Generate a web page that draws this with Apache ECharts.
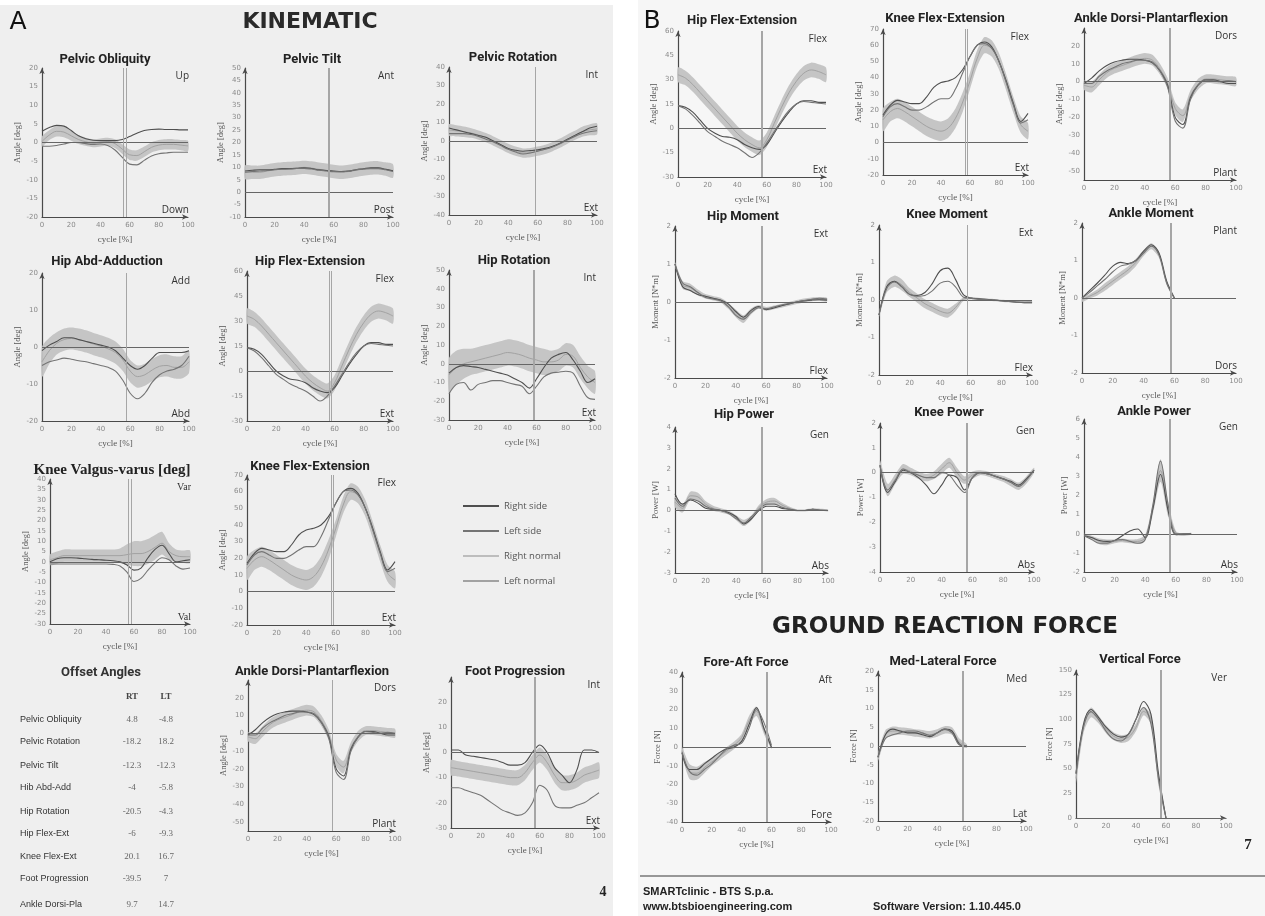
<!DOCTYPE html>
<html>
<head>
<meta charset="utf-8">
<script src="https://cdn.jsdelivr.net/npm/echarts@6/dist/echarts.min.js"></script>
<style>
html, body { margin: 0; padding: 0; background: #fff; }
#main { width: 1265px; height: 916px; }
</style>
</head>
<body>
<div id="main"></div>
<script>
// gait cycle, percent
var cycle = [0, 5, 10, 15, 20, 25, 30, 35, 40, 45, 50, 55, 60, 65, 70, 75, 80, 85, 90, 95, 100];

// ---- kinematics (deg) : normal band mean / sd, right side, left side
var poMean = [0.3, 2.0, 3.0, 2.8, 1.8, 0.8, 0.2, -0.2, 0, 0.2, -0.3, -1.8, -3.3, -3.5, -2.5, -1.3, -0.7, -0.5, -0.5, -0.7, -0.9];
var poSd = [1.3, 1.3, 1.4, 1.4, 1.3, 1.2, 1.1, 1.1, 1.1, 1.1, 1.2, 1.3, 1.4, 1.4, 1.4, 1.4, 1.4, 1.4, 1.4, 1.4, 1.4];
var poRight = [3.0, 4.0, 4.6, 4.4, 3.2, 1.8, 1.0, 0.6, 0.5, 0.5, 0.5, 0.8, 1.6, 2.5, 3.2, 3.5, 3.6, 3.5, 3.5, 3.4, 3.4];
var poLeft = [-1.0, -1.0, -0.8, -0.4, 0, 0, -0.3, -0.5, -0.4, -0.8, -2.0, -4.0, -5.8, -6.0, -4.8, -3.6, -3.0, -2.8, -2.6, -2.6, -2.6];

var ptMean = [8, 8, 8, 8.5, 9, 9.3, 9.5, 9.7, 10, 9.7, 9.2, 8.8, 8.3, 8, 8.3, 8.8, 9.3, 9.7, 9.8, 9.3, 8.5];
var ptSd = [2.7, 2.7, 2.7, 2.7, 2.7, 2.7, 2.7, 2.7, 2.7, 2.7, 2.7, 2.7, 2.7, 2.7, 2.7, 2.7, 2.7, 2.7, 2.7, 2.7, 2.7];
var ptRight = [8.5, 8.8, 9, 9, 9.2, 9.5, 9.5, 9.6, 9.8, 9.5, 9, 8.7, 8.5, 8.3, 8.5, 9, 9.4, 9.8, 9.8, 9.2, 8.6];
var ptLeft = [8, 8.3, 8.5, 8.7, 9, 9.2, 9.3, 9.5, 9.6, 9.3, 8.8, 8.5, 8.2, 8.2, 8.5, 9, 9.3, 9.5, 9.5, 9, 8.3];

var prMean = [6, 5.5, 5, 4.3, 3.2, 1.8, 0, -2, -4, -5.5, -6.5, -6.3, -5.5, -4.5, -3, -1.2, 1, 3, 5, 6, 6.5];
var prSd = [3, 3, 2.8, 2.6, 2.5, 2.5, 2.5, 2.5, 2.5, 2.5, 2.5, 2.5, 2.5, 2.5, 2.5, 2.5, 2.5, 2.5, 2.7, 2.9, 3];
var prRight = [7, 6, 5, 4, 3, 2, 0, -2, -4, -5, -5.5, -5.2, -4.8, -4, -2.8, -1.2, 1, 3, 5, 7, 8];
var prLeft = [4, 4, 4, 3.5, 2.5, 1, -0.5, -2.5, -4.5, -6, -7, -6.5, -5.5, -4.5, -3.2, -1.5, 0.5, 2.5, 4, 5, 5.5];

var haaMean = [-4, -1, 1, 2, 2.3, 2, 1.5, 0.8, 0.2, -0.5, -1.5, -3.5, -6.5, -8, -7.5, -6.2, -5.2, -5, -5.5, -5.5, -4];
var haaSd = [4, 3.5, 3, 3, 3, 3, 3, 3, 3, 3, 3, 3, 3, 3, 3, 3, 3, 3, 3, 3, 3];
var haaRight = [-1, 0.5, 1.5, 2.5, 2.5, 2, 1.5, 1, 0.5, 0, -1, -3, -5, -6, -5, -3, -1.5, -1.5, -1.5, -1.5, -1];
var haaLeft = [-5, -4, -3.5, -3, -3.3, -3.7, -4, -4.5, -5, -5.5, -6.5, -9, -12.5, -14, -12.5, -9.5, -7.5, -6.5, -6, -5, -2.5];

var hfeMean = [33, 31, 27, 22, 17, 12, 7, 2, -3, -7, -10, -12, -7, 3, 13, 22, 29, 34, 36, 35, 33];
var hfeSd = [4.5, 4.5, 4.5, 4.5, 4.5, 4.5, 4.5, 4.5, 4.5, 4.5, 4.5, 4.5, 4.5, 4.5, 4.5, 4.5, 4.5, 4.5, 4.5, 4.5, 4.5];
var hfeRight = [14, 13, 10, 5, 0, -3, -5, -5.5, -7, -10, -12, -13, -10, -3, 4, 10, 15, 17, 17, 16, 16];
var hfeLeft = [14, 12, 8, 3, -2, -5, -8, -10, -12, -15, -18, -15, -9, -2, 5, 11, 15, 16.5, 16, 15.5, 15];

var hrMean = [-6, -2, 0, 1, 2, 3, 4, 5, 6, 5.5, 4.5, 3, 2, 1, 1, 2, 5, 4, -2, -7, -10];
var hrSd = [9, 9, 8, 7, 7, 7, 7, 7, 7, 7, 7, 7, 7, 7, 6, 6, 6, 6, 6, 6, 6];
var hrRight = [-5, -2, -1, -1.5, -2, -3, -4, -5, -6, -8, -10, -13, -8, -2, 3, 5, 6, 2, -4, -10, -8];
var hrLeft = [-16, -11, -10, -14, -11, -10, -9, -9, -10, -11, -12, -16, -12, -7, -5, -4.5, -4, -5, -12, -18, -19];

var kvvMean = [1, 2, 3, 3, 3, 3, 3, 3, 3, 3, 3, 3.5, 4, 4, 5, 7, 9, 5, 3, 2.5, 2.5];
var kvvSd = [2.5, 3, 3, 3, 3, 3, 3, 3, 3, 3, 3.5, 5, 6, 6, 6, 6, 5.5, 4, 3, 3, 3];
var kvvRight = [0, 1.5, 2, 2, 1.8, 1.5, 1.2, 1, 0.8, 0.5, 0, -1.5, -4, -3, 2, 6, 8, 4, 0, 0.5, 1];
var kvvLeft = [-1, -1, -1, -1, -1, -1, -1, -1, -1, -1.2, -2, -5, -9.5, -8, -4, -0.5, 2, 1, -2, -3.5, -3];

var kfeMean = [14, 19, 21, 19, 16, 13, 10, 8, 7, 9, 15, 25, 38, 52, 60, 58, 50, 37, 23, 11, 7];
var kfeSd = [7, 6, 6, 6, 6, 6, 6, 6, 6, 6, 6, 6, 5, 5, 5, 5, 5, 5, 5, 5, 5];
var kfeRight = [17, 23, 26, 25, 24, 24, 28, 34, 37, 38, 40, 45, 53, 60, 62, 59, 50, 38, 24, 13, 18];
var kfeLeft = [16, 22, 24, 22, 20, 20, 22, 25, 27, 27, 33, 43, 53, 60, 61, 58, 50, 37, 23, 12, 14];

var adpMean = [-2, -3, 1, 5, 7.5, 9, 10.5, 12, 13, 12, 7, -1, -15, -19, -8, -1.5, 1.5, 1.5, 1, 0.5, 0];
var adpSd = [2.5, 3, 3, 3, 3, 3, 3, 3, 3, 3, 3, 3, 3.5, 3.5, 3, 3, 2.5, 2.5, 2.5, 2.5, 2.5];
var adpRight = [-1, 2, 6, 9, 11, 12, 12.5, 12.5, 12, 10.5, 6, -2, -20, -24, -9, -2, 1, 1, 0, -1, -1];
var adpLeft = [-1, -1, 3, 6, 8, 10, 11, 12, 12, 11, 6, -3, -22, -26, -10, -2, 1, 0.5, 0, 0.5, 0];

var fpMean = [-6, -6.5, -7, -7.5, -8, -8.5, -9, -9.5, -10, -10, -8, -4, -1, -4, -9, -12, -12, -11, -9, -8, -7];
var fpSd = [3, 3, 3, 3, 3, 3, 3, 3, 3, 3, 3, 3, 3, 3, 3, 3, 3, 3, 3, 3, 3];
var fpRight = [1, 1, -1, -1.5, -2, -2.5, -3, -4, -5, -5, -4, 0, 3, 0, -6, -9, -12, -7, 1, 1, 0];
var fpLeft = [-14, -14, -15, -16, -17, -19, -21, -23, -24, -25, -24, -20, -13, -15, -21, -22, -22, -21, -20, -18, -16];

// ---- kinetics
var hmMean = [1.0, 0.45, 0.38, 0.25, 0.15, 0.1, 0.05, -0.1, -0.3, -0.45, -0.25, -0.13, -0.18, -0.14, -0.1, -0.05, 0, 0.04, 0.07, 0.08, 0.06];
var hmSd = [0.05, 0.1, 0.1, 0.08, 0.06, 0.06, 0.06, 0.08, 0.1, 0.1, 0.08, 0.05, 0.05, 0.05, 0.05, 0.05, 0.05, 0.05, 0.05, 0.05, 0.05];
var hmRight = [1.0, 0.4, 0.3, 0.2, 0.15, 0.1, 0.05, -0.05, -0.25, -0.4, -0.22, -0.12, -0.2, -0.16, -0.1, -0.05, 0, 0.03, 0.05, 0.06, 0.05];
var hmLeft = [1.0, 0.5, 0.4, 0.25, 0.12, 0.08, 0.03, -0.12, -0.35, -0.45, -0.28, -0.15, -0.18, -0.13, -0.08, -0.04, 0, 0.04, 0.07, 0.1, 0.08];

var kmMean = [-0.4, 0.35, 0.5, 0.4, 0.2, 0.05, -0.1, -0.2, -0.3, -0.35, -0.2, 0.02, 0.05, 0.03, 0.01, 0, -0.02, -0.03, -0.05, -0.06, -0.06];
var kmSd = [0.05, 0.15, 0.15, 0.15, 0.12, 0.12, 0.12, 0.12, 0.12, 0.12, 0.1, 0.05, 0.03, 0.03, 0.03, 0.03, 0.03, 0.03, 0.03, 0.03, 0.03];
var kmRight = [-0.4, 0.35, 0.5, 0.35, 0.15, 0.12, 0.2, 0.45, 0.78, 0.85, 0.55, 0.15, 0.05, 0.03, 0.02, 0, -0.02, -0.04, -0.06, -0.07, -0.07];
var kmLeft = [-0.4, 0.3, 0.48, 0.35, 0.15, 0.1, 0.12, 0.25, 0.45, 0.5, 0.35, 0.08, 0.05, 0.02, 0.01, 0, -0.02, -0.04, -0.06, -0.06, -0.06];

var amMean = [-0.05, 0.05, 0.15, 0.3, 0.45, 0.6, 0.75, 0.95, 1.2, 1.38, 1.15, 0.4, 0];
var amSd = [0.05, 0.06, 0.08, 0.1, 0.1, 0.1, 0.1, 0.1, 0.08, 0.08, 0.08, 0.06, 0.03];
var amRight = [0, 0.2, 0.4, 0.62, 0.85, 0.95, 0.92, 1.0, 1.25, 1.42, 1.2, 0.45, 0];
var amLeft = [0, 0.15, 0.33, 0.5, 0.7, 0.85, 0.9, 1.0, 1.2, 1.38, 1.15, 0.4, 0];

var hpMean = [0.4, 0.1, 0.7, 0.65, 0.3, 0.1, 0, -0.1, -0.35, -0.6, -0.35, 0.15, 0.4, 0.45, 0.25, 0.1, 0, 0, 0.05, 0.03, 0];
var hpSd = [0.25, 0.2, 0.2, 0.2, 0.15, 0.12, 0.1, 0.1, 0.12, 0.15, 0.12, 0.12, 0.15, 0.15, 0.12, 0.08, 0.05, 0.05, 0.05, 0.05, 0.05];
var hpRight = [0.8, 0.3, 0.5, 0.35, 0.1, 0.05, 0, -0.1, -0.3, -0.65, -0.4, 0, 0.2, 0.2, 0.1, 0.05, 0, 0, 0.05, 0, 0];
var hpLeft = [0.6, 0.2, 0.55, 0.45, 0.2, 0.05, 0, -0.15, -0.4, -0.6, -0.3, 0.05, 0.3, 0.3, 0.15, 0.05, 0, 0, 0.05, 0.02, 0];

var kpMean = [0.3, -0.7, -0.25, 0.15, 0.05, -0.1, -0.2, -0.1, 0.15, 0.4, 0, -0.3, -0.1, 0, -0.05, -0.15, -0.25, -0.4, -0.55, -0.3, 0.1];
var kpSd = [0.2, 0.25, 0.2, 0.2, 0.15, 0.15, 0.15, 0.15, 0.2, 0.2, 0.2, 0.15, 0.15, 0.1, 0.1, 0.1, 0.12, 0.15, 0.15, 0.15, 0.1];
var kpRight = [0.3, -0.8, -0.35, 0.1, 0, -0.2, -0.5, -0.85, -0.5, -0.1, -0.2, -0.7, -0.2, 0, -0.05, -0.15, -0.25, -0.35, -0.5, -0.25, 0.1];
var kpLeft = [0.3, -0.7, -0.3, 0.15, 0, -0.1, -0.2, -0.2, 0, -0.1, -0.5, -0.8, -0.2, 0, -0.05, -0.15, -0.25, -0.4, -0.55, -0.3, 0.1];

var apMean = [-0.05, -0.2, -0.4, -0.45, -0.4, -0.35, -0.4, -0.4, -0.2, 1.3, 3.3, 1.3, 0.05, -0.05, 0];
var apSd = [0.05, 0.1, 0.15, 0.15, 0.1, 0.1, 0.1, 0.12, 0.15, 0.3, 0.6, 0.4, 0.1, 0.05, 0.05];
var apRight = [-0.1, -0.2, -0.35, -0.4, -0.35, -0.1, 0.15, 0.25, -0.2, 1.3, 3.1, 1.2, -0.05, 0, 0];
var apLeft = [-0.1, -0.3, -0.5, -0.5, -0.35, -0.3, -0.4, -0.5, -0.3, 1.5, 3.8, 1.5, 0, 0, 0];

// ---- ground reaction force (stance only)
var faMean = [-2, -13, -14, -11, -8, -5, -2, 1, 5, 14, 19, 9, 0];
var faSd = [2, 4, 3.5, 3, 2, 2, 2, 2, 2, 2.5, 2.5, 2, 1];
var faRight = [-3, -12, -12, -9, -6, -3, -1, 0, 3, 12, 21, 10, 0];
var faLeft = [-3, -13, -15, -12, -9, -5, -1, 1, 2, 10, 20, 13, 1];

var mlMean = [-3, 3, 4, 4, 3.8, 3.5, 3.3, 3, 3.5, 4.3, 4, 1, 0];
var mlSd = [1, 1.2, 1.2, 1, 1, 1, 1, 1, 1, 1, 1, 1, 0.5];
var mlRight = [-3, 3, 4.5, 4, 3.5, 3.5, 3, 2.5, 3.5, 4.5, 4, 0.5, 0];
var mlLeft = [-3, 2, 3, 3.5, 4, 4, 3.5, 2.8, 3.5, 4.5, 3.5, 0.3, 0];

var vfMean = [40, 92, 107, 100, 90, 83, 80, 82, 92, 108, 100, 38, 0];
var vfSd = [5, 6, 5, 4, 4, 4, 4, 4, 4, 4, 5, 5, 2];
var vfRight = [45, 95, 110, 102, 92, 85, 82, 85, 100, 118, 105, 45, 0];
var vfLeft = [45, 92, 108, 100, 88, 80, 78, 85, 100, 112, 95, 40, 0];

// toe-off markers (% cycle), right / left
var toeA = [[55.5, 57.5], [56, 57], [58, 58.5], [57, 57.5], [56.5, 57.5], [57.5, 58.5], [56, 58], [57, 58], [57, 57.5], [56, 57]];
var toeB = [[56, 57], [57, 58], [56, 57], [57, 57.5], [57.5, 58], [57.5, 58], [56.5, 57], [56, 56.5], [56, 56.5], [56.5, 57.5], [57, 57.5], [56, 56.5]];

// offset table
var offsetNames = ['Pelvic Obliquity', 'Pelvic Rotation', 'Pelvic Tilt', 'Hib Abd-Add', 'Hip Rotation', 'Hip Flex-Ext', 'Knee Flex-Ext', 'Foot Progression', 'Ankle Dorsi-Pla'];
var offsetRT = ['4.8', '-18.2', '-12.3', '-4', '-20.5', '-6', '20.1', '-39.5', '9.7'];
var offsetLT = ['-4.8', '18.2', '-12.3', '-5.8', '-4.3', '-9.3', '16.7', '7', '14.7'];

var ANG = 'Angle [deg]', MOM = 'Moment [N*m]', POW = 'Power [W]', FOR = 'Force [N]';

var charts = [
  {t: 'Pelvic Obliquity', tx: 105, ty: 60, box: [42, 68, 188, 217], y: [-20, 20, 5], yn: ANG, gap: 20, hi: 'Up', lo: 'Down', m: poMean, s: poSd, r: poRight, l: poLeft, toe: toeA[0]},
  {t: 'Pelvic Tilt', tx: 312, ty: 60, box: [245, 68, 393, 217], y: [-10, 50, 5], yn: ANG, gap: 20, hi: 'Ant', lo: 'Post', m: ptMean, s: ptSd, r: ptRight, l: ptLeft, toe: toeA[1]},
  {t: 'Pelvic Rotation', tx: 513, ty: 58, box: [449, 67, 597, 215], y: [-40, 40, 10], yn: ANG, gap: 20, hi: 'Int', lo: 'Ext', m: prMean, s: prSd, r: prRight, l: prLeft, toe: toeA[2]},
  {t: 'Hip Abd-Adduction', tx: 107, ty: 262, box: [42, 273, 189, 421], y: [-20, 20, 10], yn: ANG, gap: 20, hi: 'Add', lo: 'Abd', m: haaMean, s: haaSd, r: haaRight, l: haaLeft, toe: toeA[3]},
  {t: 'Hip Flex-Extension', tx: 310, ty: 262, box: [247, 271, 393, 421], y: [-30, 60, 15], yn: ANG, gap: 20, hi: 'Flex', lo: 'Ext', m: hfeMean, s: hfeSd, r: hfeRight, l: hfeLeft, toe: toeA[4]},
  {t: 'Hip Rotation', tx: 514, ty: 261, box: [449, 270, 595, 420], y: [-30, 50, 10], yn: ANG, gap: 20, hi: 'Int', lo: 'Ext', m: hrMean, s: hrSd, r: hrRight, l: hrLeft, toe: toeA[5]},
  {t: 'Knee Valgus-varus [deg]', serif: true, tx: 112, ty: 470, box: [50, 479, 190, 624], y: [-30, 40, 5], yn: ANG, gap: 20, hi: 'Var', lo: 'Val', m: kvvMean, s: kvvSd, r: kvvRight, l: kvvLeft, toe: toeA[6]},
  {t: 'Knee Flex-Extension', tx: 310, ty: 467, box: [247, 475, 395, 625], y: [-20, 70, 10], yn: ANG, gap: 20, hi: 'Flex', lo: 'Ext', m: kfeMean, s: kfeSd, r: kfeRight, l: kfeLeft, toe: toeA[7]},
  {t: 'Ankle Dorsi-Plantarflexion', tx: 312, ty: 672, box: [248, 680, 395, 831], y: [-55, 30, 5], tens: true, yn: ANG, gap: 20, hi: 'Dors', lo: 'Plant', m: adpMean, s: adpSd, r: adpRight, l: adpLeft, toe: toeA[8]},
  {t: 'Foot Progression', tx: 515, ty: 672, box: [451, 677, 599, 828], y: [-30, 30, 10], noMax: true, yn: ANG, gap: 20, hi: 'Int', lo: 'Ext', m: fpMean, s: fpSd, r: fpRight, l: fpLeft, toe: toeA[9]},

  {t: 'Hip Flex-Extension', tx: 742, ty: 21, box: [678, 31, 826, 177], y: [-30, 60, 15], yn: ANG, gap: 20, hi: 'Flex', lo: 'Ext', m: hfeMean, s: hfeSd, r: hfeRight, l: hfeLeft, toe: toeB[0]},
  {t: 'Knee Flex-Extension', tx: 945, ty: 19, box: [883, 29, 1028, 175], y: [-20, 70, 10], yn: ANG, gap: 20, hi: 'Flex', lo: 'Ext', m: kfeMean, s: kfeSd, r: kfeRight, l: kfeLeft, toe: toeB[1]},
  {t: 'Ankle Dorsi-Plantarflexion', tx: 1151, ty: 19, box: [1084, 28, 1236, 180], y: [-55, 30, 5], tens: true, yn: ANG, gap: 20, hi: 'Dors', lo: 'Plant', m: adpMean, s: adpSd, r: adpRight, l: adpLeft, toe: toeB[2]},
  {t: 'Hip Moment', tx: 743, ty: 217, box: [675, 226, 827, 378], y: [-2, 2, 1], yn: MOM, gap: 13, hi: 'Ext', lo: 'Flex', m: hmMean, s: hmSd, r: hmRight, l: hmLeft, toe: toeB[3]},
  {t: 'Knee Moment', tx: 947, ty: 215, box: [879, 225, 1032, 375], y: [-2, 2, 1], yn: MOM, gap: 13, hi: 'Ext', lo: 'Flex', m: kmMean, s: kmSd, r: kmRight, l: kmLeft, toe: toeB[4]},
  {t: 'Ankle Moment', tx: 1151, ty: 214, box: [1082, 223, 1236, 373], y: [-2, 2, 1], yn: MOM, gap: 13, hi: 'Plant', lo: 'Dors', m: amMean, s: amSd, r: amRight, l: amLeft, toe: toeB[5]},
  {t: 'Hip Power', tx: 744, ty: 415, box: [675, 427, 828, 573], y: [-3, 4, 1], yn: POW, gap: 12, hi: 'Gen', lo: 'Abs', m: hpMean, s: hpSd, r: hpRight, l: hpLeft, toe: toeB[6]},
  {t: 'Knee Power', tx: 949, ty: 413, box: [880, 423, 1034, 572], y: [-4, 2, 1], yn: POW, gap: 12, hi: 'Gen', lo: 'Abs', m: kpMean, s: kpSd, r: kpRight, l: kpLeft, toe: toeB[7]},
  {t: 'Ankle Power', tx: 1154, ty: 412, box: [1084, 419, 1237, 572], y: [-2, 6, 1], yn: POW, gap: 12, hi: 'Gen', lo: 'Abs', m: apMean, s: apSd, r: apRight, l: apLeft, toe: toeB[8]},
  {t: 'Fore-Aft Force', tx: 746, ty: 663, box: [682, 672, 831, 822], y: [-40, 40, 10], yn: FOR, gap: 18, hi: 'Aft', lo: 'Fore', m: faMean, s: faSd, r: faRight, l: faLeft, toe: toeB[9]},
  {t: 'Med-Lateral Force', tx: 943, ty: 662, box: [878, 671, 1026, 821], y: [-20, 20, 5], yn: FOR, gap: 18, hi: 'Med', lo: 'Lat', m: mlMean, s: mlSd, r: mlRight, l: mlLeft, toe: toeB[10]},
  {t: 'Vertical Force', tx: 1140, ty: 660, box: [1076, 670, 1226, 818], y: [0, 150, 25], yn: FOR, gap: 18, hi: 'Ver', lo: '', m: vfMean, s: vfSd, r: vfRight, l: vfLeft, toe: toeB[11]}
];

var AXIS = '#4a4a4a';
var C_RIGHT = '#4f4f4f', C_LEFT = '#747474', C_BAND = '#c2c2c2', C_MEAN = '#a2a2a2';

function pairs(arr) {
  return arr.map(function (v, k) { return [cycle[k], v]; });
}
function txt(x, y, text, font, fill, align) {
  return {
    type: 'text', x: x, y: y, z: 50,
    style: {text: text, font: font, fill: fill || '#222', align: align || 'center', verticalAlign: 'middle',
      textAlign: align || 'center', textVerticalAlign: 'middle'}
  };
}
// normal band (mean +- sd) as one polygon through the chart's own scales
function bandRenderer(mean, sd) {
  return function (params, api) {
    var up = [], dn = [];
    mean.forEach(function (v, k) {
      if (v == null) return;
      up.push(api.coord([cycle[k], v + sd[k]]));
      dn.push(api.coord([cycle[k], v - sd[k]]));
    });
    return {
      type: 'polygon',
      shape: {points: up.concat(dn.reverse()), smooth: 0.25},
      style: {fill: C_BAND, opacity: 0.95}
    };
  };
}

var grid = [], xAxis = [], yAxis = [], series = [];
var graphic = [
  {type: 'rect', z: 0, shape: {x: 0, y: 5, width: 613, height: 911}, style: {fill: '#efefef'}},
  {type: 'rect', z: 0, shape: {x: 638, y: 0, width: 627, height: 916}, style: {fill: '#f6f6f6'}},
  txt(18, 22, 'A', '25px "DejaVu Sans"', '#111'),
  txt(310, 22, 'KINEMATIC', 'bold 22px "DejaVu Sans"', '#2a2a2a'),
  txt(652, 21, 'B', '25px "DejaVu Sans"', '#111'),
  txt(945, 627, 'GROUND REACTION FORCE', 'bold 23px "DejaVu Sans"', '#222'),
  txt(603, 892, '4', 'bold 14px "Liberation Serif"', '#222'),
  txt(1248, 845, '7', 'bold 15px "Liberation Serif"', '#222'),
  {type: 'line', z: 0, shape: {x1: 640, y1: 876, x2: 1265, y2: 876}, style: {stroke: '#777', lineWidth: 1.5}},
  txt(643, 892, 'SMARTclinic - BTS S.p.a.', 'bold 11px "Liberation Sans"', '#222', 'left'),
  txt(643, 907, 'www.btsbioengineering.com', 'bold 11px "Liberation Sans"', '#222', 'left'),
  txt(873, 907, 'Software Version: 1.10.445.0', 'bold 11px "Liberation Sans"', '#222', 'left'),
  // offset angles table
  txt(101, 673, 'Offset Angles', 'bold 13px Roboto', '#333'),
  txt(132, 697, 'RT', 'bold 9px "Liberation Serif"', '#444'),
  txt(166, 697, 'LT', 'bold 9px "Liberation Serif"', '#444')
];
var rowY = [720, 742, 766, 788, 812, 834, 857, 879, 905];
offsetNames.forEach(function (n, k) {
  graphic.push(txt(20, rowY[k], n, '9px "Liberation Sans"', '#333', 'left'));
  graphic.push(txt(132, rowY[k], offsetRT[k], '9px "Liberation Serif"', '#666'));
  graphic.push(txt(166, rowY[k], offsetLT[k], '9px "Liberation Serif"', '#666'));
});

charts.forEach(function (c, i) {
  var L = c.box[0], T = c.box[1], R = c.box[2], B = c.box[3];
  grid.push({left: L, top: T, width: R - L, height: B - T, outerBoundsMode: 'none'});
  xAxis.push({
    gridIndex: i, type: 'value', min: 0, max: 100, interval: 20,
    name: 'cycle [%]', nameLocation: 'middle', nameGap: 18,
    nameTextStyle: {fontFamily: 'Liberation Serif', fontSize: 9, color: '#555'},
    axisLine: {onZero: false, lineStyle: {color: AXIS, width: 1.2}, symbol: ['none', 'arrow'], symbolSize: [4, 6]},
    axisTick: {show: false}, splitLine: {show: false},
    axisLabel: {fontSize: 7, color: '#8a8a8a', margin: 5, fontFamily: 'DejaVu Sans'}
  });
  yAxis.push({
    gridIndex: i, type: 'value', min: c.y[0], max: c.y[1], interval: c.y[2],
    name: c.yn, nameLocation: 'middle', nameGap: c.gap, nameRotate: 90,
    nameTextStyle: {fontFamily: 'Liberation Serif', fontSize: 8.5, color: '#555'},
    axisLine: {show: true, onZero: false, lineStyle: {color: AXIS, width: 1.2}, symbol: ['none', 'arrow'], symbolSize: [4, 6]},
    axisTick: {show: false}, splitLine: {show: false},
    axisLabel: {
      fontSize: 7, color: '#8a8a8a', margin: 4, fontFamily: 'DejaVu Sans',
      showMaxLabel: !(c.noMax || c.tens),
      formatter: c.tens ? function (v) { return v % 10 === 0 ? String(v) : ''; } : null
    }
  });

  var common = {xAxisIndex: i, yAxisIndex: i, silent: true, animation: false};

  series.push(Object.assign({}, common, {
    type: 'custom', name: 'Right normal', color: C_BAND, z: 1,
    renderItem: bandRenderer(c.m, c.s), data: [[c.toe[0], 0]]
  }));
  series.push(Object.assign({}, common, {
    type: 'line', name: 'Left normal', data: pairs(c.m), symbol: 'none', smooth: 0.35,
    color: C_MEAN, lineStyle: {color: C_MEAN, width: 1},
    markLine: {
      silent: true, symbol: ['none', 'none'], label: {show: false}, animation: false,
      data: [
        {yAxis: 0, lineStyle: {color: '#666', width: 1, type: 'solid'}},
        {xAxis: c.toe[0], lineStyle: {color: '#a6a6a6', width: 1, type: 'solid'}},
        {xAxis: c.toe[1], lineStyle: {color: '#a6a6a6', width: 1, type: 'solid'}}
      ]
    }
  }));
  series.push(Object.assign({}, common, {
    type: 'line', name: 'Right side', data: pairs(c.r), symbol: 'none', smooth: 0.35,
    color: C_RIGHT, lineStyle: {color: C_RIGHT, width: 1.1}
  }));
  series.push(Object.assign({}, common, {
    type: 'line', name: 'Left side', data: pairs(c.l), symbol: 'none', smooth: 0.35,
    color: C_LEFT, lineStyle: {color: C_LEFT, width: 1.1}
  }));

  // title and direction labels
  graphic.push(txt(c.tx, c.ty, c.t, c.serif ? 'bold 15px "Liberation Serif"' : 'bold 13px Roboto', '#222'));
  var cf = c.serif ? '10px "Liberation Serif"' : '10px "Open Sans"';
  graphic.push(txt(R + 1, T + 8, c.hi, cf, '#333', 'right'));
  if (c.lo) graphic.push(txt(R + 1, B - 7, c.lo, cf, '#333', 'right'));
});

var chart = echarts.init(document.getElementById('main'));
chart.setOption({
  backgroundColor: '#ffffff',
  animation: false,
  textStyle: {fontFamily: 'DejaVu Sans'},
  grid: grid,
  xAxis: xAxis,
  yAxis: yAxis,
  series: series,
  legend: {
    orient: 'vertical', left: 458, top: 496, itemWidth: 36, itemHeight: 2, itemGap: 15,
    icon: 'rect', selectedMode: false,
    textStyle: {fontSize: 9.5, color: '#555', fontFamily: 'Open Sans'},
    data: [
      {name: 'Right side', itemStyle: {color: C_RIGHT}},
      {name: 'Left side', itemStyle: {color: C_LEFT}},
      {name: 'Right normal', itemStyle: {color: '#bdbdbd'}},
      {name: 'Left normal', itemStyle: {color: C_MEAN}}
    ]
  },
  graphic: graphic
});
</script>
</body>
</html>
